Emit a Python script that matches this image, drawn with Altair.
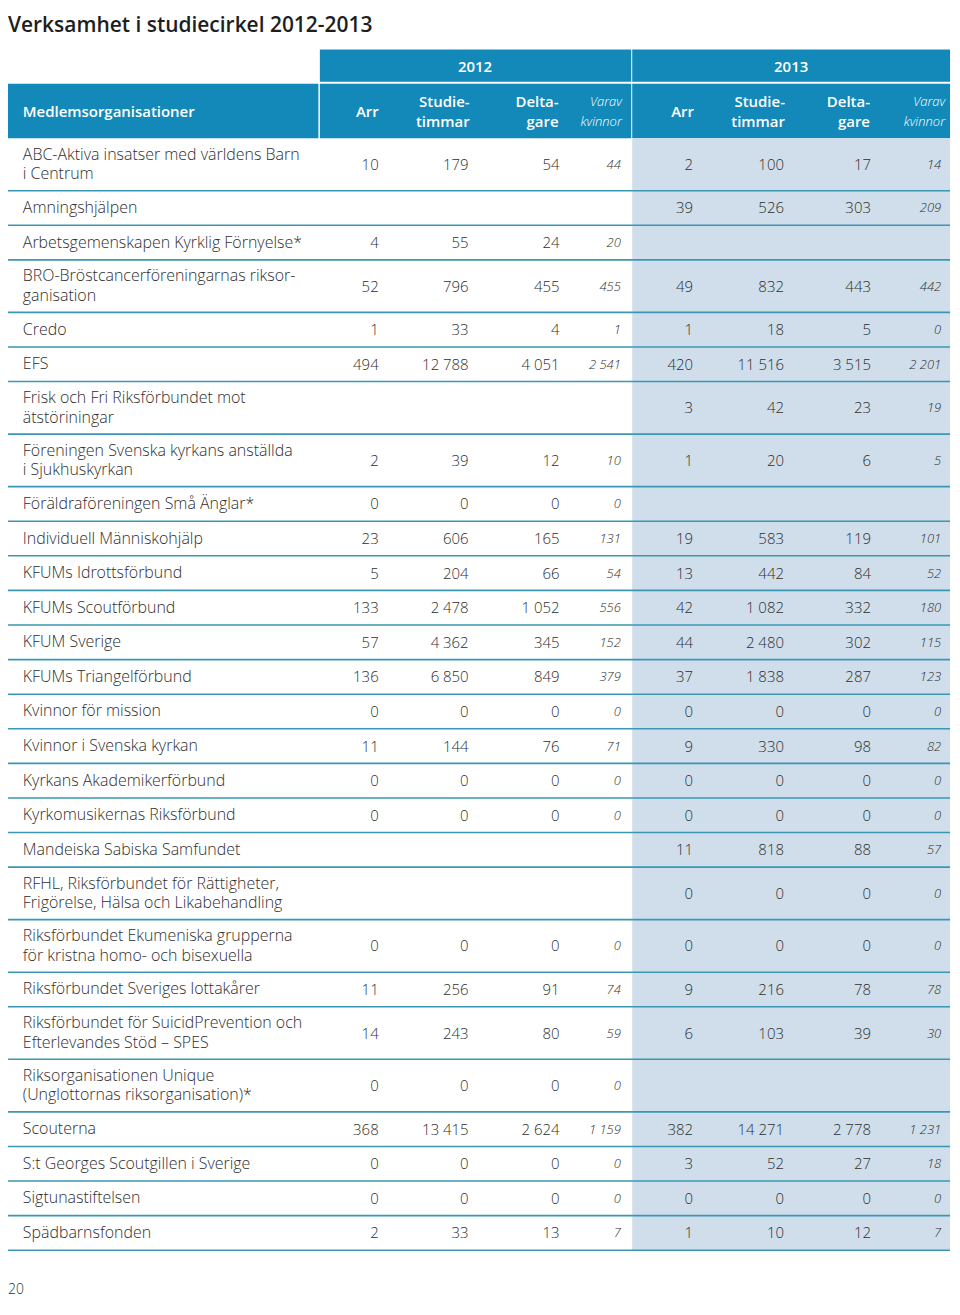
import altair as alt
import pandas as pd

# ---------------- data ----------------
title_text = "Verksamhet i studiecirkel 2012-2013"
page_number = "20"
first_col_header = "Medlemsorganisationer"
years = ["2012", "2013"]
col_headers = ["Arr", "Studie-\ntimmar", "Delta-\ngare", "Varav\nkvinnor"]

orgs = [
    "ABC-Aktiva insatser med världens Barn\ni Centrum",
    "Amningshjälpen",
    "Arbetsgemenskapen Kyrklig Förnyelse*",
    "BRO-Bröstcancerföreningarnas riksor-\nganisation",
    "Credo",
    "EFS",
    "Frisk och Fri Riksförbundet mot\nätstöriningar",
    "Föreningen Svenska kyrkans anställda\ni Sjukhuskyrkan",
    "Föräldraföreningen Små Änglar*",
    "Individuell Människohjälp",
    "KFUMs Idrottsförbund",
    "KFUMs Scoutförbund",
    "KFUM Sverige",
    "KFUMs Triangelförbund",
    "Kvinnor för mission",
    "Kvinnor i Svenska kyrkan",
    "Kyrkans Akademikerförbund",
    "Kyrkomusikernas Riksförbund",
    "Mandeiska Sabiska Samfundet",
    "RFHL, Riksförbundet för Rättigheter,\nFrigörelse, Hälsa och Likabehandling",
    "Riksförbundet Ekumeniska grupperna\nför kristna homo- och bisexuella",
    "Riksförbundet Sveriges lottakårer",
    "Riksförbundet för SuicidPrevention och\nEfterlevandes Stöd – SPES",
    "Riksorganisationen Unique\n(Unglottornas riksorganisation)*",
    "Scouterna",
    "S:t Georges Scoutgillen i Sverige",
    "Sigtunastiftelsen",
    "Spädbarnsfonden",
]

arr_2012 = [10, None, 4, 52, 1, 494, None, 2, 0, 23, 5, 133, 57, 136, 0, 11, 0, 0, None, None, 0, 11, 14, 0, 368, 0, 0, 2]
timmar_2012 = [179, None, 55, 796, 33, 12788, None, 39, 0, 606, 204, 2478, 4362, 6850, 0, 144, 0, 0, None, None, 0, 256, 243, 0, 13415, 0, 0, 33]
deltagare_2012 = [54, None, 24, 455, 4, 4051, None, 12, 0, 165, 66, 1052, 345, 849, 0, 76, 0, 0, None, None, 0, 91, 80, 0, 2624, 0, 0, 13]
kvinnor_2012 = [44, None, 20, 455, 1, 2541, None, 10, 0, 131, 54, 556, 152, 379, 0, 71, 0, 0, None, None, 0, 74, 59, 0, 1159, 0, 0, 7]

arr_2013 = [2, 39, None, 49, 1, 420, 3, 1, None, 19, 13, 42, 44, 37, 0, 9, 0, 0, 11, 0, 0, 9, 6, None, 382, 3, 0, 1]
timmar_2013 = [100, 526, None, 832, 18, 11516, 42, 20, None, 583, 442, 1082, 2480, 1838, 0, 330, 0, 0, 818, 0, 0, 216, 103, None, 14271, 52, 0, 10]
deltagare_2013 = [17, 303, None, 443, 5, 3515, 23, 6, None, 119, 84, 332, 302, 287, 0, 98, 0, 0, 88, 0, 0, 78, 39, None, 2778, 27, 0, 12]
kvinnor_2013 = [14, 209, None, 442, 0, 2201, 19, 5, None, 101, 52, 180, 115, 123, 0, 82, 0, 0, 57, 0, 0, 78, 30, None, 1231, 18, 0, 7]

# ---------------- layout / style ----------------
BLUE = "#1289b8"
LIGHT = "#cfdeea"
LINE = "#3a97b3"
TXT = "#2e2e2e"
FONT = "Open Sans"

X_LEFT, X_RIGHT = 2, 955
X_SPLIT = 633.5          # start of 2013 block
X_NAMECOL = 316          # end of name column
YEAR_TOP, YEAR_BOT = 44.5, 77
HEAD_TOP, HEAD_BOT = 79, 133.5
SINGLE_H, DOUBLE_H = 34.7, 52.7
NAME_X = 17
NAME_LH = 19.5
NUM_RIGHT = {"2012": [377, 468, 560, 622], "2013": [695, 787, 875, 946]}
HEAD_RIGHT = {"2012": [377, 469, 559, 623], "2013": [696, 788, 874, 950]}
YEAR_CENTER = {"2012": (X_NAMECOL + 1 + 632) / 2, "2013": (X_SPLIT + X_RIGHT) / 2}
TITLE_X, TITLE_BASE = 2, 27.5
PAGE_X, PAGE_BASE = 2, 1293

xs = alt.Scale(domain=[2, 957], nice=False, zero=False)
ys = alt.Scale(domain=[5, 1298], nice=False, zero=False, reverse=True)

# row geometry from number of text lines
rows = []
top = HEAD_BOT
for i, name in enumerate(orgs):
    lines = name.count("\n") + 1
    h = DOUBLE_H if lines > 1 else SINGLE_H
    rows.append({"i": i, "name": name, "lines": lines, "top": top, "bot": top + h,
                 "mid": top + h / 2, "nx": NAME_X})
    top += h
rows_df = pd.DataFrame(rows)
table_bottom = top

series = {
    "2012": [arr_2012, timmar_2012, deltagare_2012, kvinnor_2012],
    "2013": [arr_2013, timmar_2013, deltagare_2013, kvinnor_2013],
}

def fmt(v):
    return f"{int(v):,}".replace(",", " ")

num_recs, kv_recs = [], []
for yr, cols in series.items():
    for ci, vals in enumerate(cols):
        for r, v in zip(rows, vals):
            if v is None:
                continue
            rec = {"x": NUM_RIGHT[yr][ci], "y": r["mid"] + 0.5, "label": fmt(v)}
            (kv_recs if ci == 3 else num_recs).append(rec)
num_df = pd.DataFrame(num_recs)
kv_df = pd.DataFrame(kv_recs)

# rectangles: header blocks + light 2013 band
rects = pd.DataFrame([
    {"x": X_NAMECOL + 1.5, "x2": 632.5, "y": YEAR_TOP, "y2": YEAR_BOT, "c": BLUE},
    {"x": X_SPLIT, "x2": X_RIGHT, "y": YEAR_TOP, "y2": YEAR_BOT, "c": BLUE},
    {"x": X_LEFT, "x2": X_NAMECOL, "y": HEAD_TOP, "y2": HEAD_BOT, "c": BLUE},
    {"x": X_NAMECOL + 1.5, "x2": 632.5, "y": HEAD_TOP, "y2": HEAD_BOT, "c": BLUE},
    {"x": X_SPLIT, "x2": X_RIGHT, "y": HEAD_TOP, "y2": HEAD_BOT, "c": BLUE},
    {"x": X_SPLIT, "x2": X_RIGHT, "y": HEAD_BOT, "y2": table_bottom, "c": LIGHT},
])

rule_df = pd.DataFrame({"y": rows_df["bot"], "x": X_LEFT, "x2": X_RIGHT})

head_mid = (HEAD_TOP + HEAD_BOT) / 2 + 1
head_recs = []
for yr in years:
    for ci, lab in enumerate(col_headers):
        head_recs.append({"x": HEAD_RIGHT[yr][ci], "y": head_mid, "label": lab,
                          "italic": ci == 3, "multi": "\n" in lab})
head_df = pd.DataFrame(head_recs)
year_df = pd.DataFrame({"x": [YEAR_CENTER[y] for y in years],
                        "y": [(YEAR_TOP + YEAR_BOT) / 2 + 1] * 2, "label": years})
misc_df = pd.DataFrame([{"x": NAME_X, "y": head_mid, "label": first_col_header}])
title_df = pd.DataFrame([{"x": TITLE_X, "y": TITLE_BASE, "label": title_text}])
page_df = pd.DataFrame([{"x": PAGE_X, "y": PAGE_BASE, "label": page_number}])

def enc_xy(xf="x", yf="y"):
    return dict(x=alt.X(f"{xf}:Q", scale=xs, axis=None), y=alt.Y(f"{yf}:Q", scale=ys, axis=None))

rect_layer = alt.Chart(rects).mark_rect().encode(
    x=alt.X("x:Q", scale=xs, axis=None), x2="x2:Q",
    y=alt.Y("y:Q", scale=ys, axis=None), y2="y2:Q",
    color=alt.Color("c:N", scale=None),
)
rule_layer = alt.Chart(rule_df).mark_rule(color=LINE, strokeWidth=1.6).encode(
    x=alt.X("x:Q", scale=xs, axis=None), x2="x2:Q",
    y=alt.Y("y:Q", scale=ys, axis=None),
)
name_style = dict(align="left", baseline="middle", font=FONT, fontSize=16, fontWeight=300,
                  color=TXT, lineBreak="\n", lineHeight=NAME_LH)
name1_layer = alt.Chart(rows_df[rows_df["lines"] == 1]).mark_text(**name_style).encode(
    **enc_xy("nx", "mid"), text="name:N")
name2_layer = alt.Chart(rows_df[rows_df["lines"] > 1]).mark_text(
    dy=-NAME_LH / 2, **name_style).encode(**enc_xy("nx", "mid"), text="name:N")
num_layer = alt.Chart(num_df).mark_text(
    align="right", baseline="middle", font=FONT, fontSize=15, fontWeight=300, color=TXT,
).encode(**enc_xy(), text="label:N")
kv_layer = alt.Chart(kv_df).mark_text(
    align="right", baseline="middle", font=FONT, fontSize=13, fontWeight=300,
    fontStyle="italic", color=TXT,
).encode(**enc_xy(), text="label:N")
head1_layer = alt.Chart(head_df[~head_df["multi"]]).mark_text(
    align="right", baseline="middle", font=FONT, fontSize=15, fontWeight=600, color="white",
).encode(**enc_xy(), text="label:N")
head_layer = alt.Chart(head_df[head_df["multi"] & ~head_df["italic"]]).mark_text(
    align="right", baseline="middle", font=FONT, fontSize=15, fontWeight=600,
    color="white", lineBreak="\n", lineHeight=20, dy=-10,
).encode(**enc_xy(), text="label:N")
head_it_layer = alt.Chart(head_df[head_df["italic"]]).mark_text(
    align="right", baseline="middle", font=FONT, fontSize=13, fontWeight=300,
    fontStyle="italic", color="white", lineBreak="\n", lineHeight=20, dy=-10,
).encode(**enc_xy(), text="label:N")
year_layer = alt.Chart(year_df).mark_text(
    align="center", baseline="middle", font=FONT, fontSize=15, fontWeight=600, color="white",
).encode(**enc_xy(), text="label:N")
misc_layer = alt.Chart(misc_df).mark_text(
    align="left", baseline="middle", font=FONT, fontSize=15, fontWeight=600, color="white",
).encode(**enc_xy(), text="label:N")
title_layer = alt.Chart(title_df).mark_text(
    align="left", baseline="alphabetic", font=FONT, fontSize=21, fontWeight=600, color="#1e1e1e",
).encode(**enc_xy(), text="label:N")
page_layer = alt.Chart(page_df).mark_text(
    align="left", baseline="alphabetic", font=FONT, fontSize=14, fontWeight=300, color=TXT,
).encode(**enc_xy(), text="label:N")

chart = alt.layer(
    rect_layer, rule_layer, name1_layer, name2_layer, num_layer, kv_layer,
    head1_layer, head_layer, head_it_layer, year_layer, misc_layer, title_layer, page_layer,
).properties(
    width=947, height=1293, padding=0,
    autosize=alt.AutoSizeParams(type="none"),
).configure_view(stroke=None)

chart.save("out.html", embed_options={"renderer": "svg", "actions": False})
